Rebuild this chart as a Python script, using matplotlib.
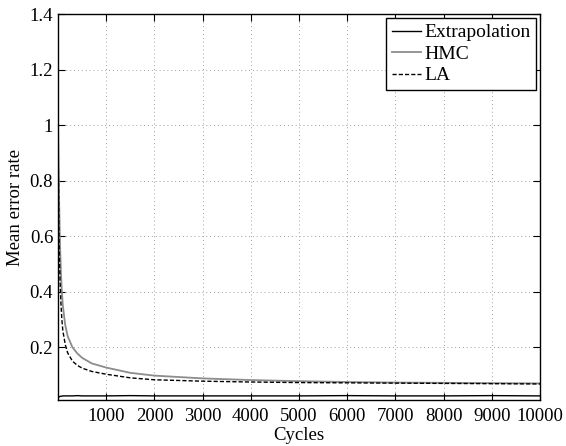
import matplotlib
matplotlib.use("Agg")
import matplotlib.pyplot as plt

plt.rcParams['font.family'] = ['Liberation Serif', 'DejaVu Serif']

# cycles sampled where the curves change shape
cycles = [1, 20, 40, 60, 80, 100, 150, 200, 300, 400, 500, 700, 1000,
          1500, 2000, 3000, 4000, 5000, 6000, 7000, 8000, 9000, 10000]

hmc = [1.0, 0.75, 0.58, 0.47, 0.40, 0.35, 0.28, 0.24, 0.20, 0.178, 0.162,
       0.142, 0.127, 0.108, 0.098, 0.088, 0.082, 0.078, 0.075, 0.073,
       0.072, 0.071, 0.070]
la = [0.95, 0.60, 0.45, 0.36, 0.30, 0.26, 0.21, 0.18, 0.15, 0.135, 0.125,
      0.113, 0.103, 0.090, 0.083, 0.078, 0.075, 0.073, 0.072, 0.071,
      0.070, 0.069, 0.068]
extrap = [0.018, 0.021, 0.023, 0.024, 0.024, 0.025, 0.025, 0.025, 0.025,
          0.026, 0.025, 0.025, 0.025, 0.026, 0.025, 0.025, 0.025, 0.025,
          0.026, 0.025, 0.025, 0.026, 0.025]

xticks = [1000, 2000, 3000, 4000, 5000, 6000, 7000, 8000, 9000, 10000]
yticks = [0.2, 0.4, 0.6, 0.8, 1.0, 1.2, 1.4]
ytick_labels = ['0.2', '0.4', '0.6', '0.8', '1', '1.2', '1.4']

fig = plt.figure(figsize=(5.66, 4.46), dpi=100)
ax = fig.add_axes([0.1025, 0.103, 0.8515, 0.8656])

ax.plot(cycles, extrap, color='black', lw=1.0, label='Extrapolation')
ax.plot(cycles, hmc, color='#8c8c8c', lw=1.3, label='HMC')
ax.plot(cycles, la, color='black', lw=1.0, ls=(0, (3, 1.5)), label='LA')

ax.set_xlim(0, 10000)
ax.set_ylim(0.01, 1.4)
ax.set_xticks(xticks)
ax.set_yticks(yticks)
ax.set_yticklabels(ytick_labels)
ax.tick_params(direction='in', top=True, right=True, labelsize=13.5,
               length=5, width=0.8)
ax.tick_params(axis='x', pad=6)
ax.grid(True, ls=(0, (1, 3)), color='#a0a0a0', lw=0.7)
for s in ax.spines.values():
    s.set_linewidth(1.0)

ax.set_xlabel('Cycles', fontsize=13.5, labelpad=1)
ax.set_ylabel('Mean error rate', fontsize=13.5, labelpad=4)

leg = ax.legend(loc='upper right', fontsize=14, fancybox=False,
                edgecolor='black', framealpha=1, handlelength=1.5,
                handletextpad=0.15, borderpad=0.3, labelspacing=0.2,
                borderaxespad=0.2)
leg.get_frame().set_linewidth(1.0)

fig.savefig('out.png', dpi=100)
